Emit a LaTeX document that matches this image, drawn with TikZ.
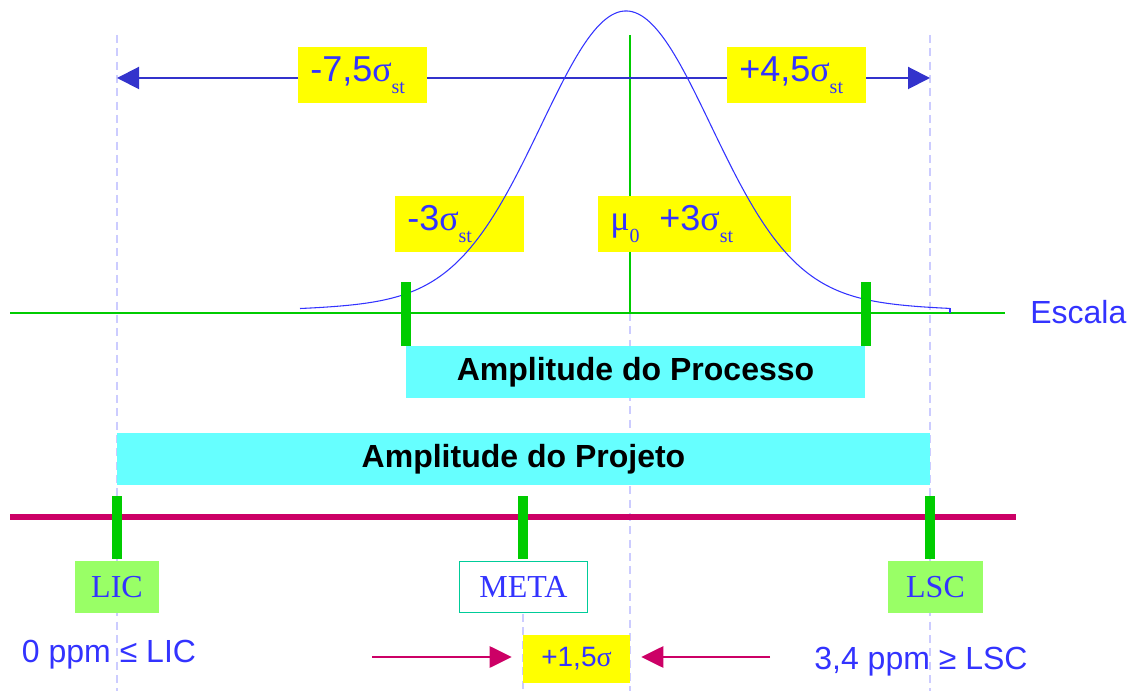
\documentclass[tikz,border=0pt]{standalone}
\usepackage{fontspec}
\setmainfont{Liberation Sans}
\newfontfamily\serif{Liberation Serif}
\usetikzlibrary{arrows.meta}
\definecolor{tblue}{HTML}{3333FF}
\definecolor{ablue}{HTML}{3333CC}
\definecolor{yel}{HTML}{FFFF00}
\definecolor{cyanb}{HTML}{66FFFF}
\definecolor{gbar}{HTML}{00CC00}
\definecolor{lgreen}{HTML}{99FF66}
\definecolor{mag}{HTML}{CC0066}
\definecolor{lav}{HTML}{CCCCFF}
\definecolor{teal}{HTML}{00CC99}
\newcommand\sbs[1]{\raisebox{-0.32em}{\fontsize{15}{15}\selectfont\serif #1}}
\newcommand\sg{{\serif σ}}
\begin{document}
\begin{tikzpicture}[x=0.75pt,y=-0.75pt,
  guide/.style={draw=lav, line width=1.5pt, dash pattern=on 6pt off 4pt},
  ybox/.style={fill=yel, inner xsep=9pt, inner ysep=0pt, minimum height=42pt, text=tblue, align=left, anchor=west, font=\fontsize{27}{30}\selectfont},
  cbox/.style={fill=cyanb, inner sep=0pt, minimum height=39pt, font=\fontsize{24}{28}\selectfont\bfseries, text=black},
  lbox/.style={fill=lgreen, inner sep=0pt, minimum height=39pt, text=tblue, font=\fontsize{24}{28}\selectfont\serif},
  gbarst/.style={fill=gbar, draw=none, inner sep=0pt, minimum width=7.5pt, minimum height=47.5pt},
  lbl/.style={text=tblue, inner sep=0pt, font=\fontsize{24}{28}\selectfont},
  marrow/.style={draw=mag, line width=1.2pt, -{Triangle[length=16.5pt,width=16pt]}},
  barrow/.style={draw=ablue, line width=1.5pt, {Triangle[length=16.5pt,width=16.5pt]}-{Triangle[length=16.5pt,width=16.5pt]}},
  curve/.style={draw=tblue, line width=0.8pt}
]
\useasboundingbox (0,0) rectangle (1132,691);

% guide lines
\coordinate (gl1) at (117,35); \coordinate (gl2) at (117,691);
\coordinate (gr1) at (930,35); \coordinate (gr2) at (930,691);
\coordinate (gc1) at (630,313); \coordinate (gc2) at (630,691);
\coordinate (gm1) at (523,614); \coordinate (gm2) at (523,691);
\draw[guide] (gl1) -- (gl2);
\draw[guide] (gr1) -- (gr2);
\draw[guide] (gc1) -- (gc2);
\draw[guide] (gm1) -- (gm2);

% scale axis
\coordinate (ax1) at (10,313); \coordinate (ax2) at (1005,313);
\draw[gbar, line width=1.5pt] (ax1) -- (ax2);
\coordinate (mu1) at (630,35);
\draw[gbar, line width=1.5pt] (mu1) -- (gc1);
\node[lbl, anchor=west] (escala) at (1030,312) {Escala};

% top arrow
\coordinate (ta1) at (117,78); \coordinate (ta2) at (930,78);
\draw[barrow] (ta1) -- (ta2);

% yellow labels
\node[ybox, text width=78.75pt] (m75) at (298,75) {-7,5\sg\sbs{st}};
\node[ybox, text width=86.25pt] (p45) at (727,75) {+4,5\sg\sbs{st}};
\node[ybox, text width=78.75pt] (m3) at (395,224) {-3\sg\sbs{st}};
\node[ybox, text width=126.75pt] (p3) at (598,224) {{\serif μ}\sbs{0}\hspace{0.55em}+3\sg\sbs{st}};

% normal curve
\draw[curve] plot[domain=300:950, samples=220] (\x, {312-280*exp(-0.5*((\x-626)/84)^2)-21*exp(-0.5*((\x-626)/170)^2)});
\coordinate (ce1) at (950,308.5); \coordinate (ce2) at (950,313);
\draw[curve] (ce1) -- (ce2);

% process spread
\node[gbarst, minimum height=48pt] (b1) at (405.5,314) {};
\node[gbarst, minimum height=48pt] (b2) at (865.5,314) {};
\node[cbox, minimum width=344.25pt] (proc) at (635.5,372) {Amplitude do Processo};
\node[cbox, minimum width=609.75pt] (proj) at (523.5,459) {Amplitude do Projeto};

% spec line
\coordinate (sp1) at (10,517); \coordinate (sp2) at (1016,517);
\draw[mag, line width=4.5pt] (sp1) -- (sp2);
\node[gbarst] (b3) at (117,527.5) {};
\node[gbarst] (b4) at (523,527.5) {};
\node[gbarst] (b5) at (930,527.5) {};

\node[lbox, minimum width=63pt] (lic) at (117,587) {LIC};
\node[lbox, minimum width=71.25pt] (lsc) at (935.5,587) {LSC};
\node[lbox, fill=white, draw=teal, line width=1.2pt, minimum width=96pt, minimum height=38.5pt] (meta) at (523.5,587) {META};

\node[lbl] (lictxt) at (109,655) {0 ppm ≤ LIC};
\node[lbl] (lsctxt) at (921,662) {3,4 ppm ≥ LSC};

% shift
\node[fill=yel, inner sep=0pt, minimum width=80.25pt, minimum height=36pt, text=tblue, font=\fontsize{21}{24}\selectfont] (shift) at (576.5,659) {+1,5\sg};
\coordinate (la) at (372,657); \coordinate (ra) at (770,657);
\coordinate (lt) at ([xshift=-8.25pt]shift.west);
\coordinate (rt) at ([xshift=8.25pt]shift.east);
\draw[marrow] (la) -- (la -| lt);
\draw[marrow] (ra) -- (ra -| rt);
\end{tikzpicture}
\end{document}
